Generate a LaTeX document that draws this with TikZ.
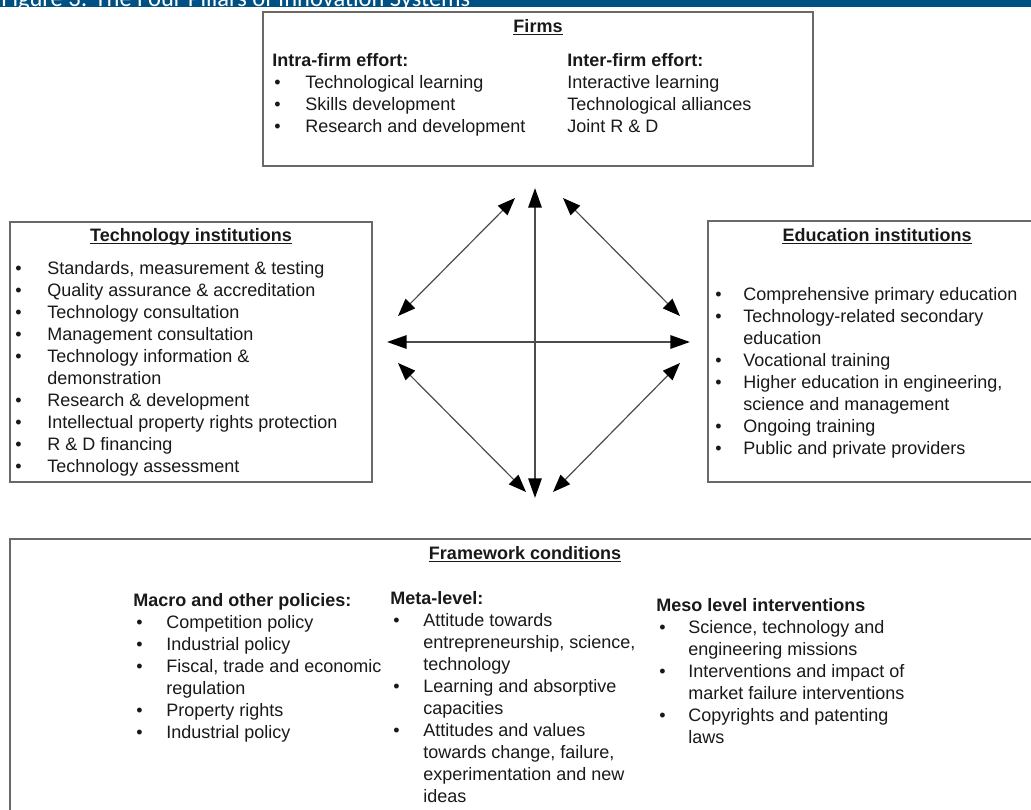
\documentclass[tikz,border=0pt]{standalone}
\usepackage{fontspec}
\setmainfont{Liberation Sans}
\newfontfamily\barfont{Carlito}
\usetikzlibrary{arrows.meta, fit}
\usepackage{xcolor}
\definecolor{barblue}{RGB}{0,81,131}
\definecolor{frame}{RGB}{105,105,105}
\definecolor{ink}{RGB}{25,25,25}
\newcommand{\bodysize}{\fontsize{12.8pt}{15.5pt}\selectfont}

\tikzset{
  pillar/.style={draw=frame, line width=1.1pt, inner sep=0pt},
  txt/.style={anchor=base west, inner sep=0pt, text=ink, font=\bodysize},
  head/.style={txt, font=\bodysize\bfseries},
  dot/.style={txt},
  boxtitle/.style={anchor=base, inner sep=0pt, text=ink, font=\bodysize\bfseries},
  uline/.style={draw=ink, line width=0.9pt},
  tip/.style={Triangle[length=12.5pt, width=9.5pt, color=black]},
  link/.style={draw=black!70, line width=0.85pt, {Triangle[length=12.5pt, width=9.5pt, color=black]}-{Triangle[length=12.5pt, width=9.5pt, color=black]}},
  axis/.style={draw=black!70, line width=1.4pt, {Triangle[length=14pt, width=9.5pt, color=black]}-{Triangle[length=14pt, width=9.5pt, color=black]}}
}

\begin{document}
\begin{tikzpicture}[x=0.025cm, y=-0.025cm]
  \useasboundingbox (0,0) rectangle (1031,809);
  \clip (0,0) rectangle (1031,809);

  % caption bar, cut off at the top
  \fill[barblue] (0,0) rectangle (1031,7);
  \node[anchor=base west, inner sep=0pt, text=white, font=\barfont\fontsize{17.4pt}{20pt}\selectfont] (caption) at (1,6) {Figure 3: The Four Pillars of Innovation Systems};

  % the four pillars
  \node[pillar, fit={(263,12) (813,166)}] (firms) {};
  \node[pillar, fit={(10,222) (372,482)}] (techinst) {};
  \node[pillar, fit={(708,221) (1045,482)}] (eduinst) {};
  \node[pillar, fit={(10,539) (1045,840)}] (framework) {};

  % box titles
  \node[boxtitle] (firmstitle) at (538,32) {Firms};
  \node[boxtitle] (techtitle) at (191,241) {Technology institutions};
  \node[boxtitle] (edutitle) at (877,241) {Education institutions};
  \node[boxtitle] (frametitle) at (525,559) {Framework conditions};
  \foreach \n in {firmstitle, techtitle, edutitle, frametitle} {
    \draw[uline] ([yshift=-1.6pt]\n.base west) -- ([yshift=-1.6pt]\n.base east);
  }

  % Firms
  \node[head] (intra) at (272,66) {Intra-firm effort:};
  \foreach \lbl [count=\i from 1] in {Technological learning, Skills development, Research and development} {
    \node[dot] (intrab\i) at (274,66+22*\i) {\textbullet};
    \node[txt] (intra\i) at (305,66+22*\i) {\lbl};
  }
  \node[head] (inter) at (567,66) {Inter-firm effort:};
  \foreach \lbl [count=\i from 1] in {Interactive learning, Technological alliances, Joint R \& D} {
    \node[txt] (inter\i) at (567,66+22*\i) {\lbl};
  }

  % Technology institutions
  \foreach \bul/\lbl [count=\i from 0] in {1/{Standards, measurement \& testing}, 1/{Quality assurance \& accreditation},
      1/{Technology consultation}, 1/{Management consultation}, 1/{Technology information \&}, 0/{demonstration},
      1/{Research \& development}, 1/{Intellectual property rights protection}, 1/{R \& D financing}, 1/{Technology assessment}} {
    \ifnum\bul=1 \node[dot] (techb\i) at (15,274+22*\i) {\textbullet}; \fi
    \node[txt] (tech\i) at (47,274+22*\i) {\lbl};
  }

  % Education institutions
  \foreach \bul/\lbl [count=\i from 0] in {1/{Comprehensive primary education}, 1/{Technology-related secondary}, 0/{education},
      1/{Vocational training}, 1/{Higher education in engineering,}, 0/{science and management},
      1/{Ongoing training}, 1/{Public and private providers}} {
    \ifnum\bul=1 \node[dot] (edub\i) at (715,300+22*\i) {\textbullet}; \fi
    \node[txt] (edu\i) at (743,300+22*\i) {\lbl};
  }

  % Framework conditions
  \node[head] (macro) at (133,606) {Macro and other policies:};
  \foreach \bul/\lbl [count=\i from 0] in {1/{Competition policy}, 1/{Industrial policy}, 1/{Fiscal, trade and economic},
      0/{regulation}, 1/{Property rights}, 1/{Industrial policy}} {
    \ifnum\bul=1 \node[dot] (macrob\i) at (136,628+22*\i) {\textbullet}; \fi
    \node[txt] (macro\i) at (166,628+22*\i) {\lbl};
  }
  \node[head] (meta) at (390,604) {Meta-level:};
  \foreach \bul/\lbl [count=\i from 0] in {1/{Attitude towards}, 0/{entrepreneurship, science,}, 0/{technology},
      1/{Learning and absorptive}, 0/{capacities}, 1/{Attitudes and values}, 0/{towards change, failure,},
      0/{experimentation and new}, 0/{ideas}} {
    \ifnum\bul=1 \node[dot] (metab\i) at (393,626+22*\i) {\textbullet}; \fi
    \node[txt] (meta\i) at (423,626+22*\i) {\lbl};
  }
  \node[head] (meso) at (656,611) {Meso level interventions};
  \foreach \bul/\lbl [count=\i from 0] in {1/{Science, technology and}, 0/{engineering missions},
      1/{Interventions and impact of}, 0/{market failure interventions}, 1/{Copyrights and patenting}, 0/{laws}} {
    \ifnum\bul=1 \node[dot] (mesob\i) at (659,633+22*\i) {\textbullet}; \fi
    \node[txt] (meso\i) at (688,633+22*\i) {\lbl};
  }

  % arrow ends round the centre
  \coordinate (up) at (535,188);
  \coordinate (down) at (535,498);
  \coordinate (left) at (387,342);
  \coordinate (right) at (690,342);
  \coordinate (ulA) at (398,316);  \coordinate (ulB) at (515,198);
  \coordinate (urA) at (563,198);  \coordinate (urB) at (680,316);
  \coordinate (llA) at (398,363);  \coordinate (llB) at (526,492);
  \coordinate (lrA) at (680,363);  \coordinate (lrB) at (553,492);

  \draw[axis] (up) -- (down);
  \draw[axis] (left) -- (right);
  \foreach \a/\b in {ulA/ulB, urA/urB, llA/llB, lrA/lrB} {
    \draw[link] (\a) -- (\b);
  }
\end{tikzpicture}
\end{document}
